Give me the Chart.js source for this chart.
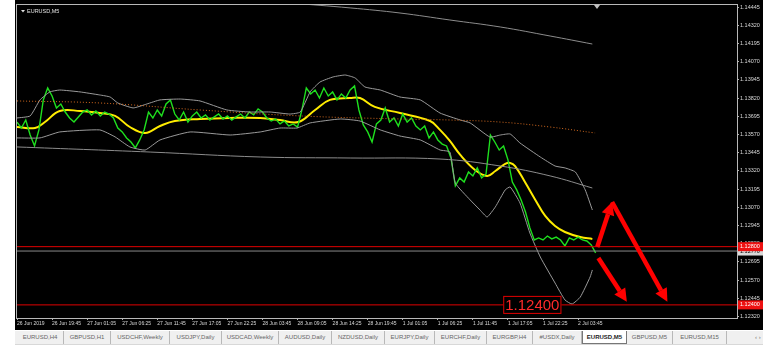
<!DOCTYPE html>
<html>
<head>
<meta charset="utf-8">
<script src="https://cdn.jsdelivr.net/npm/chart.js@4.4.1/dist/chart.umd.min.js"></script>
<style>
  html, body { margin: 0; padding: 0; background: #fff; width: 778px; height: 356px; overflow: hidden; font-family: "Liberation Sans", Arial, sans-serif; }
  #wrap { position: absolute; left: 15px; top: 0; width: 748px; height: 330px; background: #000; }
  #tabs { position: absolute; left: 15px; top: 331px; width: 748px; height: 13px; background: #f0f0f0; border-bottom: 1px solid #d8d8d8; }
  .tab { position: absolute; top: 0; height: 13px; line-height: 13px; font-size: 6px; color: #666; text-align: center; border-right: 1px solid #b8b8b8; box-sizing: border-box; }
  .tab.on { background: #fff; color: #222; border: 1px solid #777; border-top: none; font-weight: bold; }
  #nav { position: absolute; left: 755px; top: 331px; font-size: 6px; line-height: 13px; color: #777; }
</style>
</head>
<body>
<div id="wrap"><canvas id="c" width="748" height="330"></canvas></div>
<div id="tabs"></div>
<div id="nav">&#8249; &#8250;</div>
<script>
// x axis labels, one every 64 bars (M5)
const timeLabels = ['26 Jun 2019', '26 Jun 19:45', '27 Jun 01:05', '27 Jun 06:25', '27 Jun 11:45', '27 Jun 17:05',
  '27 Jun 22:25', '28 Jun 03:45', '28 Jun 09:05', '28 Jun 14:25', '28 Jun 19:45', '1 Jul 01:05',
  '1 Jul 06:25', '1 Jul 11:45', '1 Jul 17:05', '1 Jul 22:25', '2 Jul 03:45'];
const tickBars = [0, 64, 128, 192, 256, 320, 384, 448, 512, 576, 640, 704, 768, 832, 896, 960, 1024];
const priceTicks = [1.12320, 1.12445, 1.12570, 1.12695, 1.12820, 1.12945, 1.13070, 1.13195, 1.13320,
  1.13445, 1.13570, 1.13695, 1.13820, 1.13945, 1.14070, 1.14195, 1.14320, 1.14445];

// close price, one value every 8 bars
const greenStep = 8;
const closes = [1.13656, 1.13615, 1.13670, 1.13567, 1.13492, 1.13602, 1.13808, 1.13890, 1.13835, 1.13753,
  1.13780, 1.13725, 1.13684, 1.13656, 1.13691, 1.13725, 1.13739, 1.13705, 1.13732, 1.13698,
  1.13725, 1.13711, 1.13684, 1.13615, 1.13588, 1.13547, 1.13519, 1.13478, 1.13533, 1.13602,
  1.13725, 1.13684, 1.13739, 1.13698, 1.13780, 1.13808, 1.13711, 1.13670, 1.13725, 1.13656,
  1.13698, 1.13725, 1.13684, 1.13705, 1.13670, 1.13691, 1.13711, 1.13677, 1.13698, 1.13670,
  1.13691, 1.13711, 1.13684, 1.13725, 1.13705, 1.13746, 1.13725, 1.13684, 1.13663, 1.13677,
  1.13643, 1.13663, 1.13629, 1.13643, 1.13622, 1.13739, 1.13890, 1.13849, 1.13876, 1.13821,
  1.13890, 1.13835, 1.13863, 1.13808, 1.13849, 1.13821, 1.13876, 1.13904, 1.13739, 1.13636,
  1.13588, 1.13519, 1.13643, 1.13670, 1.13753, 1.13656, 1.13684, 1.13629, 1.13711, 1.13656,
  1.13684, 1.13629, 1.13602, 1.13629, 1.13547, 1.13588, 1.13533, 1.13505, 1.13492, 1.13409,
  1.13217, 1.13272, 1.13244, 1.13313, 1.13286, 1.13341, 1.13272, 1.13299, 1.13567, 1.13519,
  1.13464, 1.13492, 1.13396, 1.13244, 1.13190, 1.13121, 1.13038, 1.12929, 1.12846, 1.12860,
  1.12846, 1.12873, 1.12853, 1.12866, 1.12846, 1.12805, 1.12860, 1.12846, 1.12866, 1.12846,
  1.12839, 1.12812, 1.12757];

// yellow moving average
const maBars = [0, 33, 51, 78, 115, 151, 179, 206, 234, 261, 288, 334, 389, 444, 480, 513, 544, 571, 608, 626,
  653, 699, 754, 772, 790, 809, 836, 858, 873, 891, 900, 909, 927, 946, 964, 982, 1000, 1028, 1050];
const maValues = [1.13622, 1.13615, 1.13656, 1.13732, 1.13732, 1.13718, 1.13698, 1.13622, 1.13581, 1.13629,
  1.13663, 1.13677, 1.13684, 1.13684, 1.13670, 1.13656, 1.13739, 1.13808, 1.13821, 1.13821,
  1.13760, 1.13718, 1.13663, 1.13602, 1.13526, 1.13430, 1.13327, 1.13286, 1.13320, 1.13368,
  1.13375, 1.13354, 1.13244, 1.13121, 1.13011, 1.12942, 1.12901, 1.12866, 1.12853];

// grey envelope bands
const upperBars = [0, 24, 42, 60, 78, 115, 151, 170, 184, 212, 237, 261, 298, 334, 383, 425, 462, 498, 517, 535,
  553, 577, 599, 617, 635, 663, 699, 736, 772, 809, 827, 863, 882, 900, 918, 955, 982, 1000, 1019, 1037, 1050];
const upperValues = [1.13684, 1.13698, 1.13808, 1.13863, 1.13876, 1.13863, 1.13842, 1.13828, 1.13787, 1.13753,
  1.13780, 1.13808, 1.13814, 1.13801, 1.13739, 1.13725, 1.13725, 1.13711, 1.13725, 1.13863,
  1.13931, 1.13966, 1.13979, 1.13959, 1.13897, 1.13876, 1.13828, 1.13808, 1.13718, 1.13670,
  1.13650, 1.13553, 1.13567, 1.13574, 1.13512, 1.13416, 1.13354, 1.13341, 1.13313, 1.13190, 1.13052];
const lowerBars = [0, 42, 78, 151, 179, 206, 234, 261, 316, 389, 444, 480, 511, 535, 590, 626, 663, 699, 736, 772,
  790, 800, 827, 845, 858, 873, 891, 900, 918, 936, 955, 982, 1000, 1013, 1028, 1046, 1050];
const lowerValues = [1.13547, 1.13547, 1.13588, 1.13602, 1.13554, 1.13485, 1.13464, 1.13533, 1.13588, 1.13567,
  1.13588, 1.13615, 1.13615, 1.13650, 1.13677, 1.13663, 1.13602, 1.13560, 1.13533, 1.13464,
  1.13450, 1.13237, 1.13121, 1.13052, 1.13004, 1.13073, 1.13190, 1.13210, 1.13100, 1.12894,
  1.12729, 1.12550, 1.12434, 1.12406, 1.12454, 1.12592, 1.12640];

// slow averages
const orangeBars = [0, 151, 334, 517, 699, 790, 882, 973, 1055];
const orangeValues = [1.13801, 1.13787, 1.13739, 1.13698, 1.13677, 1.13670, 1.13656, 1.13622, 1.13581];
const slowBars = [0, 243, 444, 608, 772, 882, 973, 1050];
const slowValues = [1.13485, 1.13450, 1.13416, 1.13409, 1.13402, 1.13354, 1.13286, 1.13203];
const topBars = [498, 608, 699, 790, 882, 973, 1050];
const topValues = [1.14474, 1.14440, 1.14405, 1.14357, 1.14309, 1.14247, 1.14192];

// horizontal levels
const redLevels = [1.12800, 1.12400];
const bidLevel = 1.12770;

// drawn arrows: [fromBar, fromPrice, toBar, toPrice]
const arrows = [
  [1059, 1.12798, 1086, 1.13107],
  [1086, 1.13107, 1187, 1.12421],
  [1061, 1.12722, 1113, 1.12421]
];
const labelText = '1.12400';
const labelBar = 891;

const tabNames = ['EURUSD,H4', 'GBPUSD,H1', 'USDCHF,Weekly', 'USDJPY,Daily', 'USDCAD,Weekly', 'AUDUSD,Daily',
  'NZDUSD,Daily', 'EURJPY,Daily', 'EURCHF,Daily', 'EURGBP,H4', '#USDX,Daily', 'EURUSD,M5', 'GBPUSD,M5', 'EURUSD,M15'];
const tabEdges = [2, 49, 96, 155, 207, 264, 317, 370, 420, 472, 518, 567, 612, 658, 712];

const tabs = document.getElementById('tabs');
tabNames.forEach((n, i) => {
  const d = document.createElement('div');
  d.className = 'tab' + (n === 'EURUSD,M5' ? ' on' : '');
  d.style.left = tabEdges[i] + 'px';
  d.style.width = (tabEdges[i + 1] - tabEdges[i]) + 'px';
  d.textContent = n;
  tabs.appendChild(d);
});

const xMax = 1314;
const pts = (xs, ys) => ys.map((v, i) => ({ x: xs[i], y: v }));
const flat = v => [{ x: 0, y: v }, { x: xMax, y: v }];
const line = (data, color, width, extra) => Object.assign({
  data, borderColor: color, borderWidth: width, pointRadius: 0, fill: false, tension: 0
}, extra || {});

const deco = {
  id: 'deco',
  afterDatasetsDraw(chart) {
    const { ctx, chartArea: a, scales: { x, y } } = chart;
    ctx.save();
    ctx.beginPath();
    ctx.rect(a.left, a.top, a.right - a.left, a.bottom - a.top);
    ctx.clip();
    // arrows
    ctx.strokeStyle = '#ff0000';
    ctx.fillStyle = '#ff0000';
    ctx.lineWidth = 4.5;
    arrows.forEach(ar => {
      const x0 = x.getPixelForValue(ar[0]), y0 = y.getPixelForValue(ar[1]);
      const x1 = x.getPixelForValue(ar[2]), y1 = y.getPixelForValue(ar[3]);
      const ang = Math.atan2(y1 - y0, x1 - x0);
      const hl = 13, hw = 6.5;
      const bx = x1 - hl * Math.cos(ang), by = y1 - hl * Math.sin(ang);
      ctx.beginPath();
      ctx.moveTo(x0, y0);
      ctx.lineTo(bx, by);
      ctx.stroke();
      ctx.beginPath();
      ctx.moveTo(x1, y1);
      ctx.lineTo(bx + hw * Math.sin(ang), by - hw * Math.cos(ang));
      ctx.lineTo(bx - hw * Math.sin(ang), by + hw * Math.cos(ang));
      ctx.closePath();
      ctx.fill();
    });
    // text label on the 1.12400 line
    const lx = x.getPixelForValue(labelBar), ly = y.getPixelForValue(redLevels[1]);
    ctx.font = '15px "Liberation Sans", Arial, sans-serif';
    const tw = ctx.measureText(labelText).width;
    ctx.fillStyle = '#000';
    ctx.fillRect(lx - 2, ly - 9, tw + 4, 18);
    ctx.strokeStyle = '#e00000';
    ctx.lineWidth = 1;
    ctx.strokeRect(lx - 1.5, ly - 8.5, tw + 3, 17);
    ctx.fillStyle = '#ff2a2a';
    ctx.textBaseline = 'middle';
    ctx.fillText(labelText, lx, ly + 1);
    ctx.restore();
  },
  afterDraw(chart) {
    const { ctx, chartArea: a, scales: { y } } = chart;
    ctx.save();
    ctx.strokeStyle = '#b8b8b8';
    ctx.lineWidth = 1;
    ctx.strokeRect(a.left - 0.5, a.top - 0.5, a.right - a.left + 1, a.bottom - a.top + 1);
    // title
    ctx.fillStyle = '#e0e0e0';
    ctx.beginPath();
    ctx.moveTo(a.left + 4, a.top + 5);
    ctx.lineTo(a.left + 8, a.top + 5);
    ctx.lineTo(a.left + 6, a.top + 7.5);
    ctx.fill();
    ctx.font = '5.5px "Liberation Sans", Arial, sans-serif';
    ctx.textBaseline = 'middle';
    ctx.fillText('EURUSD,M5', a.left + 10, a.top + 6);
    // shift marker
    ctx.fillStyle = '#c0c0c0';
    ctx.beginPath();
    ctx.moveTo(579, a.top);
    ctx.lineTo(585, a.top);
    ctx.lineTo(582, a.top + 4);
    ctx.fill();
    // price labels on the axis
    const tag = (v, bg, fg) => {
      const py = y.getPixelForValue(v);
      ctx.fillStyle = bg;
      ctx.fillRect(a.right + 1, py - 4.5, 25, 9);
      ctx.fillStyle = fg;
      ctx.fillText(v.toFixed(5), a.right + 3, py);
    };
    tag(bidLevel, '#d8d8d8', '#000');
    redLevels.forEach(v => tag(v, '#ee1111', '#fff'));
    ctx.restore();
  }
};

new Chart(document.getElementById('c'), {
  type: 'line',
  data: {
    datasets: [
      line(flat(redLevels[0]), '#e00000', 1),
      line(flat(redLevels[1]), '#e00000', 1),
      line(flat(bidLevel), '#8a8a8a', 1),
      line(pts(topBars, topValues), '#8c8c8c', 1, { tension: 0.4 }),
      line(pts(slowBars, slowValues), '#8c8c8c', 1, { tension: 0.4 }),
      line(pts(orangeBars, orangeValues), '#d2691e', 1, { tension: 0.4, borderDash: [1, 2] }),
      line(pts(upperBars, upperValues), '#9a9a9a', 1, { tension: 0.15 }),
      line(pts(lowerBars, lowerValues), '#9a9a9a', 1, { tension: 0.15 }),
      line(closes.map((v, i) => ({ x: i * greenStep, y: v })), '#1ee01e', 1.4),
      line(pts(maBars, maValues), '#ffec00', 2, { tension: 0.4 })
    ]
  },
  options: {
    responsive: false,
    animation: false,
    events: [],
    layout: { padding: { left: 2, top: 5, right: 0, bottom: 0 } },
    plugins: { legend: { display: false }, tooltip: { enabled: false } },
    scales: {
      x: {
        type: 'linear', min: 0, max: xMax,
        afterBuildTicks: s => { s.ticks = tickBars.map(v => ({ value: v })); },
        afterFit: s => { s.height = 12; },
        ticks: {
          autoSkip: false, maxRotation: 0, align: 'start', padding: 1, color: '#d8d8d8',
          font: { size: 5, family: 'Liberation Sans' },
          callback: (v, i) => timeLabels[i]
        },
        grid: { drawOnChartArea: false, drawTicks: true, tickLength: 2, color: '#b0b0b0' },
        border: { display: false }
      },
      y: {
        type: 'linear', position: 'right', min: 1.12310, max: 1.14460,
        afterBuildTicks: s => { s.ticks = priceTicks.map(v => ({ value: v })); },
        afterFit: s => { s.width = 26; },
        ticks: {
          autoSkip: false, padding: 1, color: '#d8d8d8',
          font: { size: 5.5, family: 'Liberation Sans' },
          callback: v => v.toFixed(5)
        },
        grid: { drawOnChartArea: false, drawTicks: true, tickLength: 2, color: '#b0b0b0' },
        border: { display: false }
      }
    }
  },
  plugins: [deco]
});
</script>
</body>
</html>
